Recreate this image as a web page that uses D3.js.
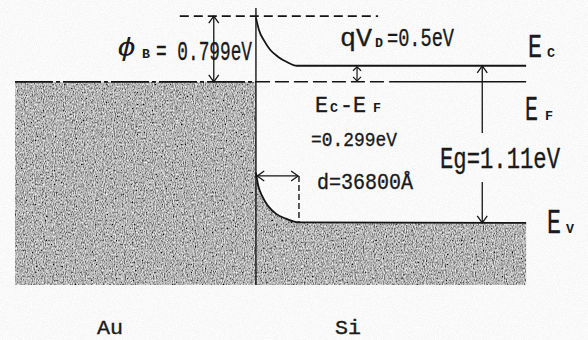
<!DOCTYPE html>
<html>
<head>
<meta charset="utf-8">
<script src="https://cdn.jsdelivr.net/npm/d3@7"></script>
<style>
  body { margin: 0; background: #f1f1f1; }
  svg { display: block; }
  text { font-family: "Liberation Mono", "DejaVu Sans Mono", monospace; fill: #1a1a1a;
         stroke: #1a1a1a; stroke-width: 0.35px; }
</style>
</head>
<body>
<div id="chart"></div>
<script>
// 1: DATA (schematic units: x in depletion widths d, energy relative to E_F)
const barrierTop = 1.23;   // metal E_F + phi_B
const ecBulk = 0.30;       // Ec - EF in bulk Si
const efLevel = 0;
const evBulk = -2.64;      // bulk valence band edge
const bottomLevel = -3.8;

// conduction band edge [x, E]
const cbEdge = [[0, 1.2], [0.07, 0.97], [0.19, 0.77], [0.33, 0.60], [0.51, 0.47],
                [0.72, 0.37], [0.95, 0.30], [6.28, 0.30]];
// valence band edge [x, E]
const vbEdge = [[0, -1.70], [0.05, -1.93], [0.14, -2.13], [0.28, -2.32], [0.47, -2.47],
                [0.70, -2.56], [1.0, -2.63], [6.28, -2.64]];

const labels = {
  phiB: "= 0.799eV", qVd: "=0.5eV", ecef: "=0.299eV",
  eg: "Eg=1.11eV", d: "d=36800Å", metal: "Au", semi: "Si"
};

// 2: SVG + SCALES
const W = 588, H = 340;
const svg = d3.select("#chart").append("svg").attr("width", W).attr("height", H);

const x = d3.scaleLinear().domain([-5.6, 6.3]).range([15, 527]);
const y = d3.scaleLinear().domain([-3.8, 1.53]).range([285, 0]);

// noise filters to mimic the scan
const defs = svg.append("defs");
const grain = defs.append("filter").attr("id", "grain")
    .attr("x", 0).attr("y", 0).attr("width", 1).attr("height", 1);
grain.append("feTurbulence").attr("type", "fractalNoise")
    .attr("baseFrequency", "0.9 0.5").attr("numOctaves", 2).attr("seed", 4).attr("result", "n");
grain.append("feColorMatrix").attr("in", "n").attr("type", "matrix")
    .attr("values", "1.4 0 0 0 -0.25  1.4 0 0 0 -0.25  1.4 0 0 0 -0.25  0 0 0 0 1").attr("result", "g");
grain.append("feComposite").attr("in", "g").attr("in2", "SourceGraphic").attr("operator", "in");

const paper = defs.append("filter").attr("id", "paper")
    .attr("x", 0).attr("y", 0).attr("width", 1).attr("height", 1);
paper.append("feTurbulence").attr("type", "fractalNoise")
    .attr("baseFrequency", 1.2).attr("numOctaves", 1).attr("seed", 9).attr("result", "n");
paper.append("feColorMatrix").attr("in", "n").attr("type", "matrix")
    .attr("values", "0.2 0 0 0 0.85  0.2 0 0 0 0.85  0.2 0 0 0 0.85  0 0 0 0 1");

svg.append("rect").attr("width", W).attr("height", H).attr("filter", "url(#paper)");

// 3: FILLED REGIONS
svg.append("rect")
    .attr("x", x(-5.6)).attr("y", y(efLevel))
    .attr("width", x(0) - x(-5.6)).attr("height", y(bottomLevel) - y(efLevel))
    .attr("fill", "#000").attr("filter", "url(#grain)");

const area = d3.area()
    .x(d => x(d[0])).y0(y(bottomLevel)).y1(d => y(d[1]))
    .curve(d3.curveMonotoneX);
svg.append("path").datum(vbEdge).attr("d", area)
    .attr("fill", "#000").attr("filter", "url(#grain)");

// 4: LINES
const ink = "#151515";
const line = d3.line().x(d => x(d[0])).y(d => y(d[1])).curve(d3.curveMonotoneX);

svg.append("path").datum(cbEdge).attr("d", line)
    .attr("fill", "none").attr("stroke", ink).attr("stroke-width", 1.8);
svg.append("path").datum(vbEdge).attr("d", line)
    .attr("fill", "none").attr("stroke", ink).attr("stroke-width", 1.8);

// interface
svg.append("line").attr("x1", x(0)).attr("x2", x(0))
    .attr("y1", y(1.38)).attr("y2", y(bottomLevel))
    .attr("stroke", ink).attr("stroke-width", 1.4);

// barrier-top dashed line
svg.append("line").attr("x1", x(-1.77)).attr("x2", x(2.84))
    .attr("y1", y(barrierTop)).attr("y2", y(barrierTop))
    .attr("stroke", ink).attr("stroke-width", 1.8).attr("stroke-dasharray", "9,5");

// Fermi level: dash-dot over the metal, dashed then solid in Si
svg.append("line").attr("x1", x(-5.6)).attr("x2", x(0))
    .attr("y1", y(efLevel)).attr("y2", y(efLevel))
    .attr("stroke", ink).attr("stroke-width", 1.8).attr("stroke-dasharray", "38,3,4,3");
svg.append("line").attr("x1", x(0)).attr("x2", x(3.1))
    .attr("y1", y(efLevel)).attr("y2", y(efLevel))
    .attr("stroke", ink).attr("stroke-width", 1.6).attr("stroke-dasharray", "14,5");
svg.append("line").attr("x1", x(3.1)).attr("x2", x(6.28))
    .attr("y1", y(efLevel)).attr("y2", y(efLevel))
    .attr("stroke", ink).attr("stroke-width", 1.6);

// depletion edge (dashed vertical)
svg.append("line").attr("x1", x(1)).attr("x2", x(1))
    .attr("y1", y(-1.76)).attr("y2", y(evBulk))
    .attr("stroke", ink).attr("stroke-width", 1.4).attr("stroke-dasharray", "6,3");

// 5: ARROWS
function head(px, py, dx, dy) {
  // open V arrowhead pointing in direction (dx, dy)
  const s = 7, w = 5;
  const bx = px - dx * s, by = py - dy * s;
  svg.append("path")
      .attr("d", `M${bx - dy * w},${by + dx * w}L${px},${py}L${bx + dy * w},${by - dx * w}`)
      .attr("fill", "none").attr("stroke", ink).attr("stroke-width", 1.3);
}
function vSeg(px, y1, y2) {
  svg.append("line").attr("x1", px).attr("x2", px).attr("y1", y1).attr("y2", y2)
      .attr("stroke", ink).attr("stroke-width", 1.3);
}

// phi_B arrow
vSeg(x(-0.98), y(barrierTop), y(efLevel));
head(x(-0.98), y(barrierTop), 0, -1);
head(x(-0.98), y(efLevel), 0, 1);

// Eg arrow, broken where the label sits
const egX = x(5.26);
vSeg(egX, y(ecBulk), 133);
vSeg(egX, 182, y(evBulk));
head(egX, y(ecBulk), 0, -1);
head(egX, y(evBulk), 0, 1);

// small Ec-EF double arrow
(function () {
  const px = x(2.35), y1 = y(ecBulk), y2 = y(efLevel);
  svg.append("line").attr("x1", px).attr("x2", px).attr("y1", y1 + 1).attr("y2", y2 - 1)
      .attr("stroke", ink).attr("stroke-width", 1.2);
  svg.append("path").attr("d", `M${px - 4},${y1 + 5}L${px},${y1 + 1}L${px + 4},${y1 + 5}`)
      .attr("fill", "none").attr("stroke", ink).attr("stroke-width", 1.2);
  svg.append("path").attr("d", `M${px - 4},${y2 - 5}L${px},${y2 - 1}L${px + 4},${y2 - 5}`)
      .attr("fill", "none").attr("stroke", ink).attr("stroke-width", 1.2);
})();

// d arrow
(function () {
  const py = y(-1.76), x1 = x(0.03), x2 = x(0.98);
  svg.append("line").attr("x1", x1).attr("x2", x2).attr("y1", py).attr("y2", py)
      .attr("stroke", ink).attr("stroke-width", 1.3);
  head(x1, py, -1, 0);
  head(x2, py, 1, 0);
})();

// 6: LABELS
function label(str, x0, base, capH, w) {
  return svg.append("text")
      .attr("x", x0).attr("y", base)
      .attr("font-size", capH / 0.62)
      .attr("textLength", w).attr("lengthAdjust", "spacingAndGlyphs")
      .text(str);
}
function sub(str, x0, base) {
  return svg.append("text")
      .attr("x", x0).attr("y", base)
      .attr("font-family", "DejaVu Sans").attr("font-weight", "bold")
      .attr("font-size", 13).style("stroke-width", 0)
      .attr("textLength", 8).attr("lengthAdjust", "spacingAndGlyphs")
      .text(str);
}

svg.append("text")
    .attr("x", 117).attr("y", 56)
    .attr("font-family", "DejaVu Serif").attr("font-style", "italic")
    .attr("font-size", 25).style("stroke-width", 0)
    .attr("textLength", 19).attr("lengthAdjust", "spacingAndGlyphs")
    .text("ϕ");
sub("B", 142, 58);
label(labels.phiB, 156, 60, 17, 96);

label("qV", 340, 46, 16, 32);
sub("D", 375, 47);
label(labels.qVd, 387, 46, 16, 67);

label("E", 528, 57, 21, 14);
sub("C", 547, 57);
label("E", 525, 120, 22, 13);
sub("F", 545, 120);
label("E", 547, 233, 22, 14);
sub("V", 566, 233);

label("E", 315, 112, 14, 13);
sub("C", 330, 112);
label("-E", 340, 112, 14, 26);
sub("F", 373, 112);
label(labels.ecef, 311, 146, 13, 86);

label(labels.eg, 440, 168, 18, 120);
label(labels.d, 317, 189, 14, 96);

label(labels.metal, 97, 334, 13, 26);
label(labels.semi, 335, 334, 13, 26);
</script>
</body>
</html>
